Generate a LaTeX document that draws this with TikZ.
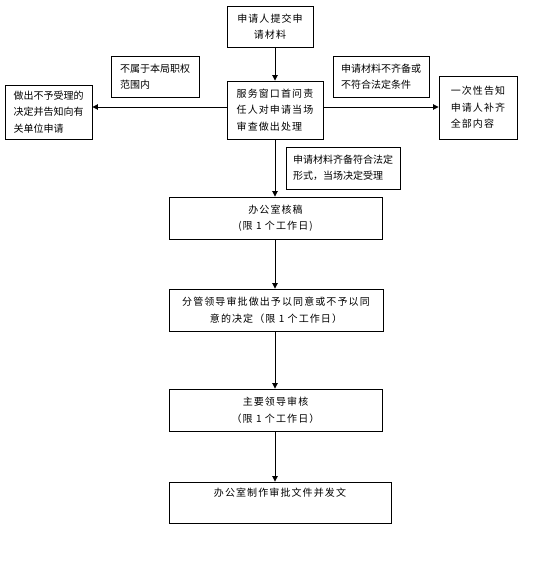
\documentclass[tikz,border=0pt]{standalone}
\usepackage{fontspec}
\setmainfont{Noto Sans CJK SC}
\newfontfamily\narrowcjk{Noto Sans CJK SC}[LetterSpace=0]
\newfontfamily\widecjk{Noto Sans CJK SC}[LetterSpace=11]
\usetikzlibrary{arrows.meta}
\tikzset{
  box/.style={draw=black, line width=0.9pt, inner sep=0pt},
  lbox/.style={box, align=left, font=\fontsize{10}{16.5}\narrowcjk},
  wbox/.style={box, align=left, font=\fontsize{10}{16.5}\widecjk},
  cbox/.style={box, align=center, font=\fontsize{10}{16.5}\widecjk},
  arr/.style={draw=black, line width=0.9pt, -{Triangle[length=5.5pt,width=5.5pt]}}
}
\begin{document}
\begin{tikzpicture}[x=1pt,y=-1pt]
\useasboundingbox (0,0) rectangle (541,564);
\node[cbox, minimum width=86pt, minimum height=41pt] (b1) at (270,26.5) {申请人提交申\\请材料};
\node[lbox, minimum width=88pt, minimum height=41pt] (b2) at (155,76.5) {不属于本局职权\\范围内};
\node[wbox, minimum width=96pt, minimum height=58pt] (c) at (275,110) {服务窗口首问责\\任人对申请当场\\审查做出处理};
\node[lbox, minimum width=87pt, minimum height=54pt] (left) at (48.5,112) {做出不予受理的\\决定并告知向有\\关单位申请};
\node[lbox, minimum width=96pt, minimum height=41pt] (b5) at (381,76.5) {申请材料不齐备或\\不符合法定条件};
\node[wbox, minimum width=78pt, minimum height=63pt] (right) at (478,107.5) {一次性告知\\申请人补齐\\全部内容};
\node[lbox, minimum width=114pt, minimum height=42pt] (b7) at (343,168) {申请材料齐备符合法定\\形式，当场决定受理};
\node[cbox, minimum width=213pt, minimum height=42pt] (b8) at (275.5,218) {办公室核稿\\(限 1 个工作日)};
\node[cbox, minimum width=214pt, minimum height=42pt] (b9) at (276,310) {分管领导审批做出予以同意或不予以同\\意的决定（限 1 个工作日）};
\node[cbox, minimum width=213pt, minimum height=42pt] (b10) at (275.5,410) {主要领导审核\\（限 1 个工作日）};
\node[cbox, minimum width=222pt, minimum height=41pt] (b11) at (280,502.5) {办公室制作审批文件并发文\\\strut};
\draw[arr] (c.center |- b1.south) -- (c.north);
\draw[arr] ([yshift=3pt]c.west) -- ([yshift=3pt]c.west -| left.east);
\draw[arr] ([yshift=3pt]c.east) -- ([yshift=3pt]c.east -| right.west);
\draw[arr] (c.south) -- (c.center |- b8.north);
\draw[arr] (c.center |- b8.south) -- (c.center |- b9.north);
\draw[arr] (c.center |- b9.south) -- (c.center |- b10.north);
\draw[arr] (c.center |- b10.south) -- (c.center |- b11.north);
\end{tikzpicture}
\end{document}
